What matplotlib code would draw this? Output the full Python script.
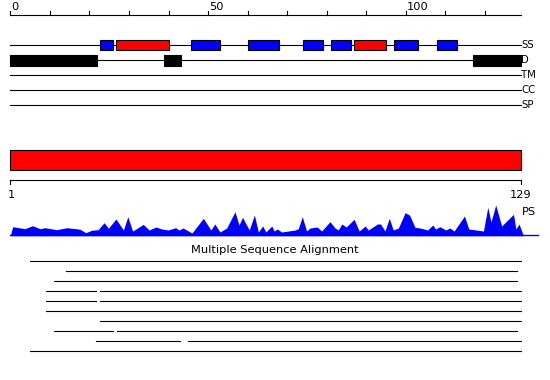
import matplotlib
matplotlib.use("Agg")
import matplotlib.pyplot as plt
from matplotlib.patches import Rectangle

seq_len = 129

# secondary structure: (start, end, kind)  H = helix (red), E = strand (blue)
ss_blocks = [(22.8, 25.9, "E"), (26.8, 40.1, "H"), (45.7, 53.0, "E"),
             (60.0, 67.8, "E"), (73.9, 79.1, "E"), (81.0, 86.2, "E"),
             (86.8, 94.9, "H"), (97.0, 103.1, "E"), (107.8, 113.0, "E")]
# disorder
d_blocks = [(0.0, 21.9), (38.9, 43.1), (116.9, 129.0)]
track_names = ["SS", "D", "TM", "CC", "SP"]

# domain bar
domain = (0.0, 129.0)

# PS profile (residue, score)
ps_x = [0, 0.6, 3.7, 5.6, 7.5, 8.8, 11.7, 14.3, 17.6, 19.1, 20.6, 22.2, 23.7,
        24.8, 26.7, 28.6, 29.7, 30.9, 32.3, 33.6, 35.1, 36.8, 38.3, 39.9, 41.8,
        42.6, 43.7, 45.9, 47.1, 48.8, 50.7, 51.7, 53.0, 54.7, 56.8, 57.8, 58.7,
        60.4, 61.7, 62.7, 63.8, 64.6, 66.1, 66.7, 67.5, 68.6, 72.0, 72.8, 73.8,
        74.9, 75.8, 77.6, 78.7, 80.8, 82.1, 82.9, 83.8, 84.9, 86.9, 88.2, 89.7,
        90.5, 92.8, 93.6, 94.7, 95.8, 96.8, 98.1, 99.8, 100.9, 102.3, 103.6,
        105.5, 106.8, 107.5, 108.6, 110.1, 111.1, 112.2, 114.8, 115.9, 119.6,
        120.7, 121.5, 122.7, 124.2, 127.2, 127.8, 128.6, 129.7]
ps_y = [0, 9, 7, 10, 7, 8, 6, 8, 6.5, 3, 5.5, 6, 13,
        7.5, 16.7, 5.7, 19, 4.7, 8, 11.3, 5.7, 8.7, 6.7, 5.7, 8,
        5.7, 7.7, 2.7, 8.7, 17.4, 5.7, 11.7, 3.7, 7.7, 24, 10.7, 18.4,
        5.7, 20.7, 3.7, 9.7, 3.7, 9.7, 4.7, 6.7, 3.7, 5.7, 7, 19,
        4.7, 7.7, 8.7, 4.7, 14, 7.7, 5.7, 11.7, 8.7, 16.4, 4.7, 9.7,
        5.7, 11.7, 11.7, 4.7, 17.4, 5.7, 7.7, 23, 20.7, 8.4, 7.7,
        5.7, 10.7, 6.7, 9, 5.7, 7.7, 4.7, 19.7, 6.7, 4.7,
        28.4, 13.7, 30.7, 9.7, 21.4, 6.7, 11.7, 0]

# alignment hits, each a list of (start, end) segments
msa = [
    [(5, 129)],
    [(14, 128)],
    [(11, 128)],
    [(9, 21.7), (22.8, 129)],
    [(9, 21.7), (22.8, 129)],
    [(9, 129)],
    [(22.8, 129)],
    [(11, 25.9), (26.9, 128)],
    [(21.7, 43), (44.9, 129)],
    [(5, 129)],
]

colors = {"H": "#ff0000", "E": "#0000ff"}

# residue -> pixel: 0 at 10.3 px, 3.956 px per residue
px = 3.956
x0 = 10.3

fig = plt.figure(figsize=(5.5, 3.8), dpi=100)
ax = fig.add_axes([0, 0, 1, 1])
ax.set_xlim(-x0 / px, (550 - x0) / px)
ax.set_ylim(380, 0)
ax.axis("off")

lw = 0.8
fs = 8.2

# top ruler
ax.plot([0, seq_len], [14.5, 14.5], color="black", lw=lw)
for t in range(0, 121, 10):
    ax.plot([t, t], [10.5, 14.5], color="black", lw=lw)
for t in [0, 50, 100]:
    ax.text(t + 0.2, 6.5, str(t), ha="left", va="center", fontsize=fs)

# feature tracks
track_y = [45, 60.3, 75.3, 90.3, 105.3]
for name, y in zip(track_names, track_y):
    ax.plot([0, seq_len], [y, y], color="black", lw=lw, zorder=1)
    ax.text(seq_len + 0.2, y, name, ha="left", va="center", fontsize=7.3)

for s, e, k in ss_blocks:
    ax.add_patch(Rectangle((s, 40), e - s, 10, facecolor=colors[k],
                           edgecolor="black", lw=lw, zorder=2))
for s, e in d_blocks:
    ax.add_patch(Rectangle((s, 55), e - s, 10.7, facecolor="black",
                           edgecolor="black", lw=lw, zorder=2))

# domain bar
ax.add_patch(Rectangle((domain[0], 150.3), domain[1] - domain[0], 20,
                       facecolor="#ff0000", edgecolor="black", lw=lw))

# lower ruler
ax.plot([0, seq_len], [180.3, 180.3], color="black", lw=lw)
ax.plot([0, 0], [180.3, 184], color="black", lw=lw)
ax.plot([seq_len, seq_len], [180.3, 184], color="black", lw=lw)
ax.text(0.2, 195.5, "1", ha="center", va="center", fontsize=fs)
ax.text(seq_len, 195.5, str(seq_len), ha="center", va="center", fontsize=fs)
ax.text(seq_len + 0.2, 212, "PS", ha="left", va="center", fontsize=fs)

# PS profile
base = 235.7
ax.fill_between(ps_x, base, [base - v for v in ps_y], color="#0000ff", lw=0)
ax.plot([0, 133.4], [base - 0.5, base - 0.5], color="#0000ff", lw=1.0)

# alignment
ax.text((550 / 2 - x0) / px, 250, "Multiple Sequence Alignment",
        ha="center", va="center", fontsize=fs)
for i, row in enumerate(msa):
    y = 260.7 + 10 * i
    for s, e in row:
        ax.plot([s, e], [y, y], color="black", lw=lw)

fig.savefig("out.png", dpi=100)
